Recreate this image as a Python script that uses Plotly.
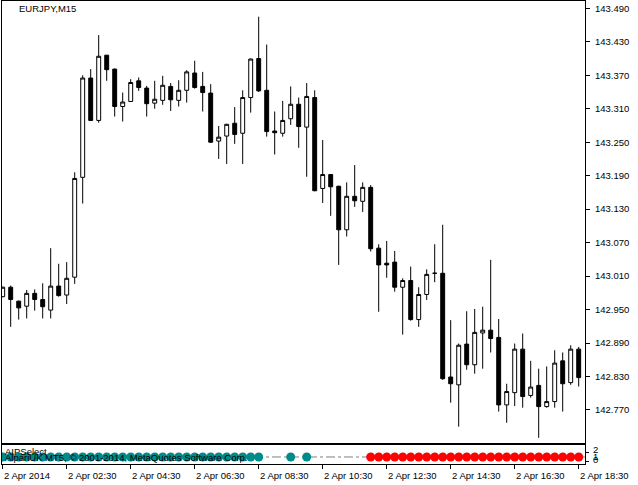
import plotly.graph_objects as go

# ---- data (EURJPY M15, 2 Apr 2014, 00:30 .. 18:30) ----
open_ = [142.973, 142.990, 142.965, 142.956, 142.979, 142.968, 142.949, 142.992, 142.976, 143.008,
         143.187, 143.365, 143.289, 143.406, 143.381, 143.314, 143.323, 143.360, 143.347, 143.320,
         143.325, 143.350, 143.325, 143.343, 143.374, 143.350, 143.338, 143.252, 143.261, 143.284,
         143.266, 143.330, 143.400, 143.343, 143.270, 143.266, 143.292, 143.318, 143.277, 143.330,
         143.167, 143.192, 143.171, 143.093, 143.153, 143.144, 143.169, 143.060, 143.033, 143.035,
         142.990, 143.002, 142.932, 142.977, 143.015, 143.015, 142.829, 142.815, 142.888, 142.851,
         142.908, 142.913, 142.900, 142.779, 142.801, 142.879, 142.796, 142.814, 142.776, 142.785,
         142.858, 142.819, 142.879]
high = [142.991, 142.993, 142.966, 142.985, 142.986, 142.997, 143.060, 143.032, 143.035, 143.196,
        143.370, 143.381, 143.442, 143.406, 143.382, 143.339, 143.363, 143.366, 143.351, 143.360,
        143.369, 143.356, 143.361, 143.379, 143.396, 143.376, 143.354, 143.279, 143.283, 143.313,
        143.343, 143.400, 143.475, 143.425, 143.305, 143.324, 143.350, 143.330, 143.356, 143.343,
        143.254, 143.193, 143.172, 143.178, 143.209, 143.178, 143.173, 143.067, 143.073, 143.055,
        143.006, 143.027, 142.990, 143.022, 143.067, 143.102, 142.931, 142.889, 142.947, 142.951,
        142.955, 143.039, 142.933, 142.817, 142.889, 142.907, 142.858, 142.844, 142.848, 142.877,
        142.873, 142.886, 142.883]
low = [142.972, 142.919, 142.932, 142.934, 142.948, 142.934, 142.934, 142.973, 142.960, 142.996,
       143.140, 143.288, 143.285, 143.360, 143.296, 143.287, 143.322, 143.342, 143.296, 143.310,
       143.317, 143.306, 143.314, 143.321, 143.346, 143.305, 143.249, 143.220, 143.211, 143.247,
       143.211, 143.303, 143.340, 143.260, 143.228, 143.260, 143.281, 143.240, 143.188, 143.162,
       143.141, 143.118, 143.030, 143.081, 143.134, 143.125, 143.054, 142.946, 143.007, 142.982,
       142.905, 142.930, 142.919, 142.967, 142.999, 142.824, 142.783, 142.740, 142.842, 142.835,
       142.844, 142.873, 142.767, 142.747, 142.777, 142.774, 142.792, 142.720, 142.774, 142.774,
       142.767, 142.815, 142.812]
close = [142.990, 142.968, 142.953, 142.979, 142.968, 142.955, 142.992, 142.975, 143.006, 143.185,
         143.365, 143.289, 143.404, 143.380, 143.314, 143.322, 143.357, 143.348, 143.319, 143.327,
         143.352, 143.326, 143.343, 143.376, 143.348, 143.339, 143.250, 143.259, 143.282, 143.264,
         143.330, 143.399, 143.342, 143.269, 143.267, 143.289, 143.318, 143.278, 143.332, 143.163,
         143.192, 143.170, 143.093, 143.153, 143.145, 143.169, 143.059, 143.030, 143.030, 142.990,
         143.002, 142.932, 142.977, 143.013, 143.015, 142.826, 142.817, 142.886, 142.851, 142.909,
         142.913, 142.898, 142.779, 142.803, 142.879, 142.794, 142.811, 142.776, 142.785, 142.854,
         142.817, 142.879, 142.828]

# indicator signal per bar: 1 = teal dot, -1 = red dot, 0 = none
signal = [1, 1, 1, 1, 1, 1, 1, 1, 1, 1,
          1, 1, 1, 1, 1, 1, 1, 1, 1, 1,
          1, 1, 1, 1, 1, 1, 1, 1, 1, 1,
          1, 1, 1, 0, 0, 0, 1, 0, 1, 0,
          0, 0, 0, 0, 0, 0, -1, -1, -1, -1,
          -1, -1, -1, -1, -1, -1, -1, -1, -1, -1,
          -1, -1, -1, -1, -1, -1, -1, -1, -1, -1,
          -1, -1, -1]
signal_level = 0

price_ticks = [143.490, 143.430, 143.370, 143.310, 143.250, 143.190, 143.130,
               143.070, 143.010, 142.950, 142.890, 142.830, 142.770]
time_tick_idx = [0, 8, 16, 24, 32, 40, 48, 56, 64, 72]
time_tick_labels = ["2 Apr 2014", "2 Apr 02:30", "2 Apr 04:30", "2 Apr 06:30", "2 Apr 08:30",
                    "2 Apr 10:30", "2 Apr 12:30", "2 Apr 14:30", "2 Apr 16:30", "2 Apr 18:30"]
sub_labels = ["2", "1", "0"]
symbol_title = "EURJPY,M15"
ind_title = "AIPSelect"
copyright_text = "AlpariUK MT5, \u00a9 2001-2014, MetaQuotes Software Corp."

FONT = "Liberation Sans"
FS = 9.5
idx = list(range(len(open_)))

fig = go.Figure()
fig.add_trace(go.Candlestick(
    x=idx, open=open_, high=high, low=low, close=close,
    increasing=dict(line=dict(color="black", width=1), fillcolor="white"),
    decreasing=dict(line=dict(color="black", width=1), fillcolor="black"),
    whiskerwidth=0, xaxis="x", yaxis="y", showlegend=False))

tx = [i for i, s in zip(idx, signal) if s == 1]
rx = [i for i, s in zip(idx, signal) if s == -1]
fig.add_trace(go.Scatter(x=tx, y=[signal_level] * len(tx), mode="markers",
                         marker=dict(color="#008B8B", size=9, line=dict(width=0)),
                         xaxis="x2", yaxis="y2", showlegend=False))
fig.add_trace(go.Scatter(x=rx, y=[signal_level] * len(rx), mode="markers",
                         marker=dict(color="#FF0000", size=9, line=dict(width=0)),
                         xaxis="x2", yaxis="y2", showlegend=False))

W, H = 638, 485
L, R, T, B = 2, 53, 1, 21
ph = H - T - B
pw = W - L - R
main_bottom = (464 - 443) / ph
sub_top = (464 - 445) / ph
xr = [-0.0875, -0.0875 + 583 / 8]

fig.add_shape(type="line", xref="paper", yref="y2", x0=0, x1=1,
              y0=signal_level, y1=signal_level,
              line=dict(color="#808080", width=1, dash="dashdot"), layer="below")

annotations = []
annotations.append(dict(text=symbol_title, xref="paper", yref="paper",
                        x=(17 - L) / pw, y=1 - (9 - T) / ph,
                        xanchor="left", yanchor="middle", showarrow=False,
                        font=dict(family=FONT, size=FS, color="black")))
annotations.append(dict(text=ind_title, xref="paper", yref="paper",
                        x=(3 - L) / pw, y=(464 - 451) / ph,
                        xanchor="left", yanchor="middle", showarrow=False,
                        font=dict(family=FONT, size=FS, color="black")))
annotations.append(dict(text=copyright_text, xref="paper", yref="paper",
                        x=(3 - L) / pw, y=(464 - 457) / ph,
                        xanchor="left", yanchor="middle", showarrow=False,
                        font=dict(family=FONT, size=FS, color="black")))
for i, t in zip(time_tick_idx, time_tick_labels):
    annotations.append(dict(text=t, xref="x2", yref="paper", x=i, y=(464 - 476) / ph,
                            xanchor="left", yanchor="middle", xshift=-1, showarrow=False,
                            font=dict(family=FONT, size=FS, color="black")))
for t, yy in zip(sub_labels, [449, 456, 459]):
    annotations.append(dict(text=t, xref="paper", yref="paper", x=1, y=(464 - yy) / ph,
                            xanchor="left", yanchor="middle", xshift=6, showarrow=False,
                            font=dict(family=FONT, size=FS, color="black")))

fig.update_layout(
    width=W, height=H, margin=dict(l=L, r=R, t=T, b=B, autoexpand=False),
    paper_bgcolor="white", plot_bgcolor="white",
    font=dict(family=FONT, size=FS, color="black"),
    showlegend=False,
    xaxis=dict(domain=[0, 1], anchor="y", range=xr, rangeslider=dict(visible=False),
               showgrid=False, zeroline=False, showticklabels=False, ticks="",
               showline=True, linecolor="black", linewidth=1, mirror=True),
    yaxis=dict(domain=[main_bottom, 1], anchor="x", side="right",
               range=[143.5049 - 0.0017927 * 443, 143.5049 - 0.0017927 * 1],
               tickvals=price_ticks, ticktext=[f"{v:.3f}" for v in price_ticks],
               ticks="outside", ticklen=4, tickcolor="black", tickwidth=1,
               ticklabelstandoff=3,
               showgrid=False, zeroline=False,
               showline=True, linecolor="black", linewidth=1, mirror=True,
               tickfont=dict(family=FONT, size=FS, color="black")),
    xaxis2=dict(domain=[0, 1], anchor="y2", range=xr, matches="x",
                showgrid=False, zeroline=False, tickvals=time_tick_idx,
                showticklabels=False, ticks="outside", ticklen=4, tickcolor="black",
                showline=True, linecolor="black", linewidth=1, mirror=True),
    yaxis2=dict(domain=[0, sub_top], anchor="x2", side="right", range=[-0.74, 1.26],
                showgrid=False, zeroline=False, showticklabels=False,
                tickvals=[-0.5, 0.5], ticks="outside", ticklen=3, tickcolor="black",
                showline=True, linecolor="black", linewidth=1, mirror=True),
    annotations=annotations,
)

fig.write_html("out.html", config={"displayModeBar": False},
               post_script="document.body.style.margin='0';")
